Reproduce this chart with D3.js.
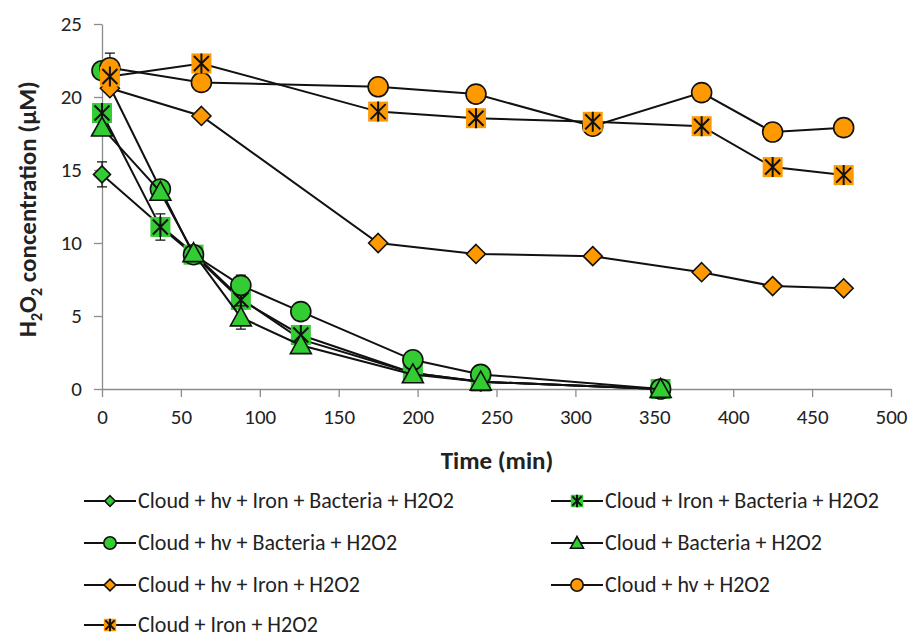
<!DOCTYPE html>
<html>
<head>
<meta charset="utf-8">
<script src="https://cdn.jsdelivr.net/npm/d3@7"></script>
<style>
  body { margin: 0; background: #fff; }
  text { font-family: Carlito, Calibri, Lato, sans-serif; fill: #222; }
</style>
</head>
<body>
<svg width="914" height="639"></svg>
<script>
// sampling times (min)
var timesGreen = [0, 37, 58, 88, 126, 197, 240, 354];
var timesOrange = [5, 63, 175, 237, 311, 380, 425, 470];

// H2O2 concentration (uM)
var hvIronBact = [14.7, 11.2, 9.3, 6.2, 3.4, 1.1, 0.5, 0];
var ironBact = [18.9, 11.1, 9.2, 6.1, 3.7, 1.1, 0.5, 0];
var hvBact = [21.8, 13.7, 9.2, 7.1, 5.3, 2.0, 1.0, 0];
var bact = [17.9, 13.5, 9.3, 4.9, 3.0, 1.0, 0.5, 0];
var hvIron = [20.6, 18.7, 10.0, 9.25, 9.1, 8.0, 7.05, 6.9];
var hvOnly = [22.0, 21.0, 20.7, 20.2, 18.0, 20.3, 17.6, 17.9];
var ironOnly = [21.4, 22.3, 19.0, 18.55, 18.3, 18.0, 15.2, 14.65];

// error bars (0 = none)
var errHvIronBact = [0.85, 0, 0, 0, 0, 0, 0, 0];
var errIronBact = [0, 0.9, 0, 0, 0, 0, 0, 0];
var errHvBact = [0, 0, 0, 0.7, 0, 0, 0, 0];
var errBact = [0, 0, 0, 0.8, 0, 0, 0, 0];
var errHvOnly = [1.0, 0, 0, 0, 0, 0, 0, 0];

var names = ["Cloud + hv + Iron + Bacteria + H2O2", "Cloud + Iron + Bacteria + H2O2",
  "Cloud + hv + Bacteria + H2O2", "Cloud + Bacteria + H2O2",
  "Cloud + hv + Iron + H2O2", "Cloud + hv + H2O2", "Cloud + Iron + H2O2"];

var xTicks = [0, 50, 100, 150, 200, 250, 300, 350, 400, 450, 500];
var yTicks = [0, 5, 10, 15, 20, 25];

var green = "#33cc33", orange = "#ff9900";

var series = [
  { name: names[0], t: timesGreen, v: hvIronBact, e: errHvIronBact, color: green, shape: "diamond", size: 17 },
  { name: names[1], t: timesGreen, v: ironBact, e: errIronBact, color: green, shape: "star", size: 20 },
  { name: names[2], t: timesGreen, v: hvBact, e: errHvBact, color: green, shape: "circle", size: 20 },
  { name: names[3], t: timesGreen, v: bact, e: errBact, color: green, shape: "triangle", size: 21 },
  { name: names[4], t: timesOrange, v: hvIron, e: null, color: orange, shape: "diamond", size: 19 },
  { name: names[5], t: timesOrange, v: hvOnly, e: errHvOnly, color: orange, shape: "circle", size: 20 },
  { name: names[6], t: timesOrange, v: ironOnly, e: null, color: orange, shape: "star", size: 20 }
];

var svg = d3.select("svg");
var x = d3.scaleLinear().domain([0, 500]).range([102, 891]);
var y = d3.scaleLinear().domain([0, 25]).range([389, 24]);

// axes
var xAxis = svg.append("g")
  .attr("transform", "translate(0,389)")
  .call(d3.axisBottom(x).tickValues(xTicks).tickSize(8).tickSizeOuter(0).tickPadding(12));
var yAxis = svg.append("g")
  .attr("transform", "translate(102,0)")
  .call(d3.axisLeft(y).tickValues(yTicks).tickSize(8).tickSizeOuter(0).tickPadding(12));
[xAxis, yAxis].forEach(function(a) {
  a.selectAll("path, line").attr("stroke", "#8c8c8c").attr("stroke-width", 1.3);
  a.selectAll("text").attr("font-size", "21px").attr("fill", "#222")
    .attr("font-family", "Carlito, Calibri, Lato, sans-serif");
});

// axis titles
svg.append("text")
  .attr("x", 497).attr("y", 469)
  .attr("text-anchor", "middle")
  .attr("font-size", "25px").attr("font-weight", "bold")
  .text("Time (min)");

var yt = svg.append("text")
  .attr("transform", "translate(36,209) rotate(-90)")
  .attr("text-anchor", "middle")
  .attr("font-size", "25px").attr("font-weight", "bold");
yt.append("tspan").text("H");
yt.append("tspan").attr("font-size", "16px").attr("dy", 6).text("2");
yt.append("tspan").attr("dy", -6).text("O");
yt.append("tspan").attr("font-size", "16px").attr("dy", 6).text("2");
yt.append("tspan").attr("dy", -6).text(" concentration (µM)");

function drawMarker(g, shape, size, color) {
  if (shape == "circle") {
    g.append("circle").attr("r", size / 2)
      .attr("fill", color).attr("stroke", "#111").attr("stroke-width", 1.6);
  } else if (shape == "diamond") {
    var h = size / 2;
    g.append("path").attr("d", "M0," + (-h) + "L" + h + ",0L0," + h + "L" + (-h) + ",0Z")
      .attr("fill", color).attr("stroke", "#111").attr("stroke-width", 1.6);
  } else if (shape == "triangle") {
    var s = size / 2;
    g.append("path").attr("d", "M0," + (-s) + "L" + s + "," + (s * 0.8) + "L" + (-s) + "," + (s * 0.8) + "Z")
      .attr("fill", color).attr("stroke", "#111").attr("stroke-width", 1.6);
  } else {
    var q = size / 2;
    g.append("rect").attr("x", -q).attr("y", -q).attr("width", size).attr("height", size)
      .attr("fill", color);
    var k = q * 0.75;
    g.append("path")
      .attr("d", "M" + (-k) + "," + (-k) + "L" + k + "," + k + "M" + k + "," + (-k) + "L" + (-k) + "," + k + "M0," + (-q) + "L0," + q)
      .attr("stroke", "#111").attr("stroke-width", 2);
  }
}

var line = d3.line()
  .x(function(d) { return x(d[0]); })
  .y(function(d) { return y(d[1]); });

series.forEach(function(s) {
  var pts = s.t.map(function(t, i) { return [t, s.v[i], s.e ? s.e[i] : 0]; });
  var g = svg.append("g");
  g.append("path").datum(pts).attr("d", line)
    .attr("fill", "none").attr("stroke", "#111").attr("stroke-width", 2);

  // error bars
  pts.filter(function(d) { return d[2] > 0; }).forEach(function(d) {
    var cx = x(d[0]);
    g.append("path")
      .attr("d", "M" + cx + "," + y(d[1] + d[2]) + "V" + y(d[1] - d[2]) +
        "M" + (cx - 5) + "," + y(d[1] + d[2]) + "H" + (cx + 5) +
        "M" + (cx - 5) + "," + y(d[1] - d[2]) + "H" + (cx + 5))
      .attr("stroke", "#111").attr("stroke-width", 1.2).attr("fill", "none");
  });

  pts.forEach(function(d) {
    var m = g.append("g").attr("transform", "translate(" + x(d[0]) + "," + y(d[1]) + ")");
    drawMarker(m, s.shape, s.size, s.color);
  });
});

// legend, two columns
var colX = [84, 551];
var rowY = [501, 543, 585, 625];
series.forEach(function(s, i) {
  var lx = colX[i % 2], ly = rowY[Math.floor(i / 2)];
  var lg = svg.append("g").attr("transform", "translate(" + lx + "," + ly + ")");
  lg.append("line").attr("x1", 0).attr("x2", 52).attr("y1", 0).attr("y2", 0)
    .attr("stroke", "#111").attr("stroke-width", 2);
  var m = lg.append("g").attr("transform", "translate(26,0)");
  drawMarker(m, s.shape, s.size * 0.62, s.color);
  lg.append("text").attr("x", 54).attr("y", 7)
    .attr("font-size", "22px").text(s.name);
});
</script>
</body>
</html>
